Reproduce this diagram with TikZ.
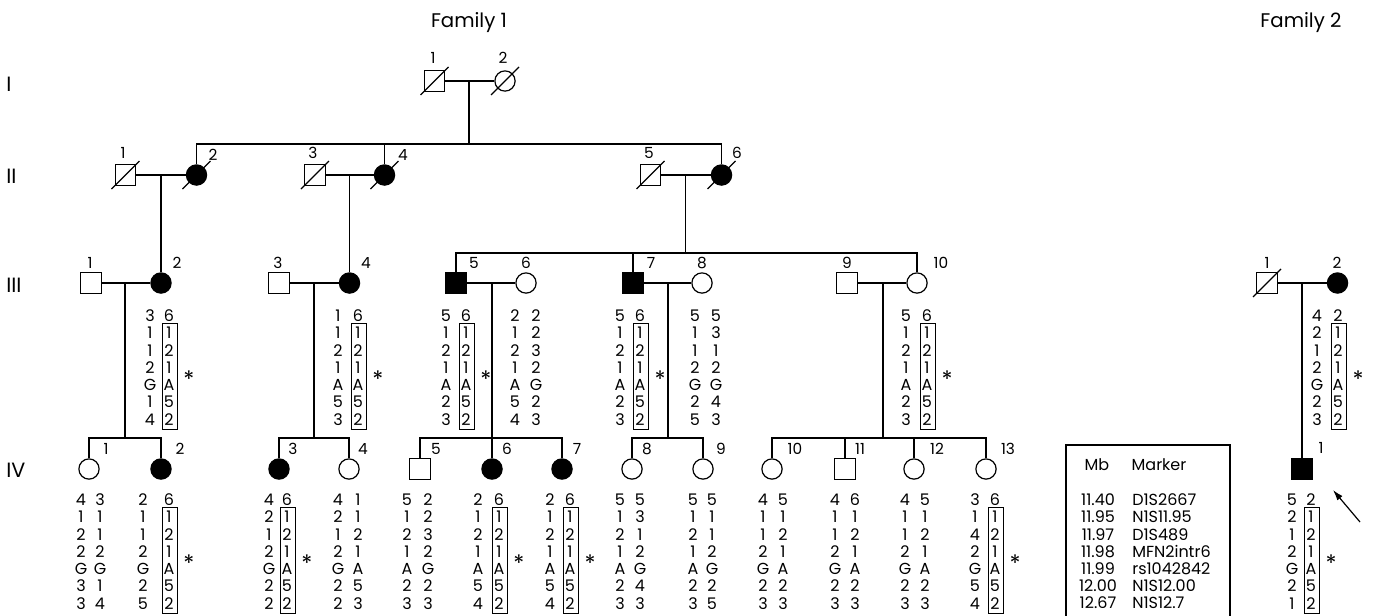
\documentclass[tikz,border=0pt]{standalone}
\usepackage{fontspec}
\setmainfont{Poppins}
\usetikzlibrary{arrows.meta}
\tikzset{
  ln/.style={line width=0.9pt},
  dsc/.style={line width=1.4pt},
  mate/.style={line width=1.9pt},
  male/.style={draw, rectangle, minimum size=15.4pt, inner sep=0pt, line width=0.9pt},
  female/.style={draw, circle, minimum size=15.2pt, inner sep=0pt, line width=0.9pt},
  aff/.style={fill=black},
  idl/.style={font=\fontsize{11.5}{12}\selectfont, inner sep=0pt, text height=8pt, text depth=0pt},
  hp/.style={font=\fontsize{12}{13}\selectfont, inner sep=0pt, text height=8.4pt, text depth=0pt},
  hstar/.style={font=\fontsize{17}{18}\selectfont, inner sep=0pt, text height=8.4pt, text depth=0pt},
  lg/.style={font=\fontsize{12}{13}\selectfont, inner sep=0pt, text height=8.4pt, text depth=0pt},
  ttl/.style={font=\fontsize{14.8}{16}\selectfont, inner sep=0pt, text height=10.4pt, text depth=0pt},
  gen/.style={font=\fontsize{15.5}{16}\selectfont, inner sep=0pt, anchor=west, text height=10.9pt, text depth=0pt},
}
\newcommand\dslash[1]{\draw[ln] (#1.center) ++(-14,14) -- ++(28,-28);}
\newcommand\haplo[6]{%
  \foreach \v [count=\i from 0] in {#5} \node[hp] (#1a\i) at (#2,{#4+\i*17.25}) {\v};
  \foreach \v [count=\i from 0] in {#6} \node[hp] (#1b\i) at (#3,{#4+\i*17.25}) {\v};
}
\newcommand\boxstar[3]{%
  \draw[ln] ({#2-7.5},{#3+7.3}) rectangle ({#2+7.5},{#3+6*17.25+10});
  \node[hstar] (#1s) at ({#2+19},{#3+4*17.25-3}) {*};
}
\begin{document}
\begin{tikzpicture}[x=0.75pt,y=-0.75pt]
\useasboundingbox (0,0) rectangle (1384,615);

% titles and generation labels
\node[ttl] (fam1) at (469,20.5) {Family 1};
\node[ttl] (fam2) at (1301,20.5) {Family 2};
\node[gen] (gI) at (6,84) {I};
\node[gen] (gII) at (6,176) {II};
\node[gen] (gIII) at (6,285) {III};
\node[gen] (gIV) at (6,470) {IV};

% ---------- Generation I ----------
\node[male] (I1) at (434.5,81) {};
\node[female] (I2) at (505,81) {};
\dslash{I1}\dslash{I2}
\node[idl] (lI1) at (433,58) {1};
\node[idl] (lI2) at (503,58) {2};
\draw[ln] (I1) -- (I2);
\coordinate (mI) at (469,81);
\coordinate (sII) at (469,144);
\draw[ln] (mI) -- (sII);

% ---------- Generation II ----------
\node[male] (II1) at (125.5,175) {};
\node[female,aff] (II2) at (196.5,175) {};
\node[male] (II3) at (315,175) {};
\node[female,aff] (II4) at (384.5,175) {};
\node[male] (II5) at (650.5,175) {};
\node[female,aff] (II6) at (721.5,175) {};
\dslash{II1}\dslash{II2}\dslash{II3}\dslash{II4}\dslash{II5}\dslash{II6}
\node[idl] (lII1) at (123,153) {1};
\node[idl] (lII2) at (213,155) {2};
\node[idl] (lII3) at (313,153) {3};
\node[idl] (lII4) at (403,155) {4};
\node[idl] (lII5) at (649,153) {5};
\node[idl] (lII6) at (737,153) {6};
\draw[ln] (II2) |- (sII) -| (II6);
\draw[ln] (II4) -- (II4 |- sII);
\draw[mate] (II1) -- (II2);
\draw[mate] (II3) -- (II4);
\draw[mate] (II5) -- (II6);
\coordinate (mII1) at (161,175);
\coordinate (mII2) at (349.5,175);
\coordinate (mII3) at (685.5,175);
\coordinate (sIII) at (685.5,253);

% ---------- Generation III ----------
\node[male] (III1) at (91,283) {};
\node[female,aff] (III2) at (161,283) {};
\node[male] (III3) at (279,283) {};
\node[female,aff] (III4) at (349.5,283) {};
\node[male,aff] (III5) at (456,283) {};
\node[female] (III6) at (526,283) {};
\node[male,aff] (III7) at (633,283) {};
\node[female] (III8) at (702,283) {};
\node[male] (III9) at (847,283) {};
\node[female] (III10) at (917,283) {};
\node[idl] (lIII1) at (90,263) {1};
\node[idl] (lIII2) at (177,263) {2};
\node[idl] (lIII3) at (278,263) {3};
\node[idl] (lIII4) at (366,263) {4};
\node[idl] (lIII5) at (474,263) {5};
\node[idl] (lIII6) at (526,263) {6};
\node[idl] (lIII7) at (651,263) {7};
\node[idl] (lIII8) at (702,263) {8};
\node[idl] (lIII9) at (847,263) {9};
\node[idl] (lIII10) at (941,263) {10};
\draw[dsc] (mII1) -- (III2);
\draw[dsc] (mII2) -- (III4);
\draw[dsc] (mII3) -- (sIII);
\draw[ln] (III5) |- (sIII) -| (III10);
\draw[ln] (III7) -- (III7 |- sIII);
\draw[mate] (III1) -- (III2);
\draw[mate] (III3) -- (III4);
\draw[mate] (III5) -- (III6);
\draw[mate] (III7) -- (III8);
\draw[ln] (III9) -- (III10);

% Family 2, generation III
\node[male] (F3a) at (1267,283) {};
\node[female,aff] (F3b) at (1337.5,283) {};
\dslash{F3a}
\node[idl] (lF3a) at (1267,263) {1};
\node[idl] (lF3b) at (1337,263) {2};
\draw[mate] (F3a) -- (F3b);
\coordinate (mF) at (1302,283);

% descent lines to generation IV
\coordinate (mIII1) at (125,283);  \coordinate (sIV1) at (125,438);
\coordinate (mIII2) at (314,283);  \coordinate (sIV2) at (314,438);
\coordinate (mIII3) at (492,283);  \coordinate (sIV3) at (492,438);
\coordinate (mIII4) at (668,283);  \coordinate (sIV4) at (668,438);
\coordinate (mIII5) at (883,283);  \coordinate (sIV5) at (883,438);

% ---------- Generation IV ----------
\node[female] (IV1) at (89,469) {};
\node[female,aff] (IV2) at (161,469) {};
\node[female,aff] (IV3) at (279,469) {};
\node[female] (IV4) at (349,469) {};
\node[male] (IV5) at (420,469) {};
\node[female,aff] (IV6) at (492,469) {};
\node[female,aff] (IV7) at (562,469) {};
\node[female] (IV8) at (632,469) {};
\node[female] (IV9) at (703,469) {};
\node[female] (IV10) at (772,469) {};
\node[male] (IV11) at (845,469) {};
\node[female] (IV12) at (914,469) {};
\node[female] (IV13) at (986,469) {};
\node[male,aff] (F4) at (1302,469) {};
\node[idl] (lIV1) at (106,449) {1};
\node[idl] (lIV2) at (180,449) {2};
\node[idl] (lIV3) at (293,449) {3};
\node[idl] (lIV4) at (363,449) {4};
\node[idl] (lIV5) at (436,449) {5};
\node[idl] (lIV6) at (507,449) {6};
\node[idl] (lIV7) at (577,449) {7};
\node[idl] (lIV8) at (647,449) {8};
\node[idl] (lIV9) at (721,449) {9};
\node[idl] (lIV10) at (795,449) {10};
\node[idl] (lIV11) at (860,449) {11};
\node[idl] (lIV12) at (937,449) {12};
\node[idl] (lIV13) at (1008,449) {13};
\node[idl] (lF4) at (1321,448) {1};

\draw[ln] (mIII1) -- (sIV1);
\draw[ln] (IV1) |- (sIV1) -| (IV2);
\draw[ln] (mIII2) -- (sIV2);
\draw[ln] (IV3) |- (sIV2) -| (IV4);
\draw[ln] (mIII3) -- (IV6);
\draw[ln] (IV5) |- (sIV3) -| (IV7);
\draw[ln] (mIII4) -- (sIV4);
\draw[ln] (IV8) |- (sIV4) -| (IV9);
\draw[ln] (mIII5) -- (sIV5);
\draw[ln] (IV10) |- (sIV5) -| (IV13);
\draw[ln] (IV11) -- (IV11 |- sIV5);
\draw[ln] (IV12) -- (IV12 |- sIV5);
\draw[dsc] (mF) -- (F4);

% proband arrow
\coordinate (arrS) at (1360,522);
\coordinate (arrE) at (1333,490);
\draw[ln,-{Latex[length=8pt,width=5pt]}] (arrS) -- (arrE);

% ---------- Haplotypes, generation III ----------
\haplo{hIII2}{150}{169}{316}{3,1,1,2,G,1,4}{6,1,2,1,A,5,2}\boxstar{hIII2}{170}{316}
\haplo{hIII4}{338}{358}{316}{1,1,2,1,A,5,3}{6,1,2,1,A,5,2}\boxstar{hIII4}{359}{316}
\haplo{hIII5}{446}{466}{316}{5,1,2,1,A,2,3}{6,1,2,1,A,5,2}\boxstar{hIII5}{467}{316}
\haplo{hIII6}{515}{536}{316}{2,1,2,1,A,5,4}{2,2,3,2,G,2,3}
\haplo{hIII7}{620}{640}{316}{5,1,2,1,A,2,3}{6,1,2,1,A,5,2}\boxstar{hIII7}{641}{316}
\haplo{hIII8}{695}{716}{316}{5,1,1,2,G,2,5}{5,3,1,2,G,4,3}
\haplo{hIII10}{906}{927}{316}{5,1,2,1,A,2,3}{6,1,2,1,A,5,2}\boxstar{hIII10}{928}{316}
\haplo{hF3}{1317}{1338}{316}{4,2,1,2,G,2,3}{2,1,2,1,A,5,2}\boxstar{hF3}{1339}{316}

% ---------- Haplotypes, generation IV ----------
\haplo{hIV1}{81}{100}{500}{4,1,2,2,G,3,3}{3,1,1,2,G,1,4}
\haplo{hIV2}{143}{169}{500}{2,1,1,2,G,2,5}{6,1,2,1,A,5,2}\boxstar{hIV2}{170}{500}
\haplo{hIV3}{269}{287}{500}{4,2,1,2,G,2,2}{6,1,2,1,A,5,2}\boxstar{hIV3}{288}{500}
\haplo{hIV4}{338}{358}{500}{4,2,1,2,G,2,2}{1,1,2,1,A,5,3}
\haplo{hIV5}{407}{428}{500}{5,1,2,1,A,2,3}{2,2,3,2,G,2,3}
\haplo{hIV6}{478}{499}{500}{2,1,2,1,A,5,4}{6,1,2,1,A,5,2}\boxstar{hIV6}{500}{500}
\haplo{hIV7}{550}{570}{500}{2,1,2,1,A,5,4}{6,1,2,1,A,5,2}\boxstar{hIV7}{571}{500}
\haplo{hIV8}{620}{640}{500}{5,1,2,1,A,2,3}{5,3,1,2,G,4,3}
\haplo{hIV9}{693}{712}{500}{5,1,2,1,A,2,3}{5,1,1,2,G,2,5}
\haplo{hIV10}{763}{783}{500}{4,1,1,2,G,2,3}{5,1,2,1,A,2,3}
\haplo{hIV11}{835}{855}{500}{4,1,1,2,G,2,3}{6,1,2,1,A,2,3}
\haplo{hIV12}{905}{925}{500}{4,1,1,2,G,2,3}{5,1,2,1,A,2,3}
\haplo{hIV13}{975}{995}{500}{3,1,4,2,G,5,4}{6,1,2,1,A,5,2}\boxstar{hIV13}{996}{500}
\haplo{hF4}{1292}{1311}{500}{5,2,1,2,G,2,1}{2,1,2,1,A,5,2}\boxstar{hF4}{1312}{500}

% ---------- Legend ----------
\draw[ln] (1066,620) -- (1066,445) -- (1230,445) -- (1230,620);
\node[lg] (lgMb) at (1097,465) {Mb};
\node[lg] (lgMk) at (1159,465) {Marker};
\foreach \mb/\mk [count=\i from 0] in {11.40/D1S2667, 11.95/N1S11.95, 11.97/D1S489, 11.98/MFN2intr6, 11.99/rs1042842, 12.00/N1S12.00, 12.67/N1S12.7} {
  \node[lg] (lgv\i) at (1098,{500+\i*17.2}) {\mb};
  \node[lg,anchor=west] (lgm\i) at (1132,{500+\i*17.2}) {\mk};
}
\end{tikzpicture}
\end{document}
